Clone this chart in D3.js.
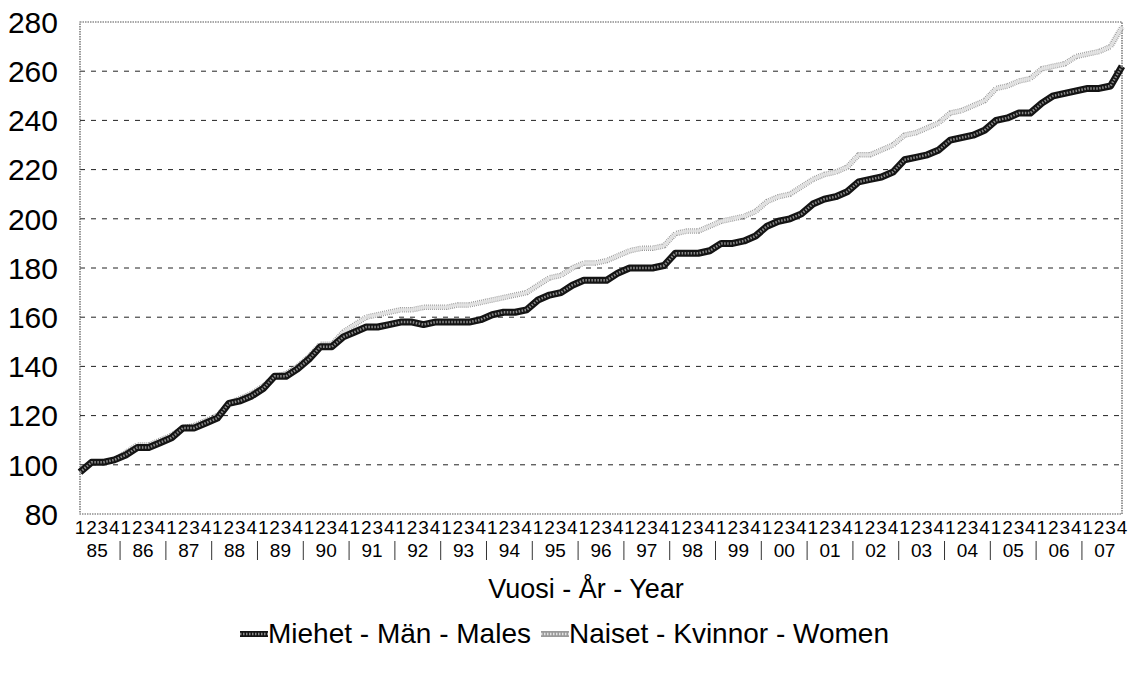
<!DOCTYPE html>
<html>
<head>
<meta charset="utf-8">
<script src="https://cdn.jsdelivr.net/npm/d3@7"></script>
<style>
  body { margin: 0; background: #fff; }
  svg { display: block; font-family: Arial, "Liberation Sans", sans-serif; }
</style>
</head>
<body>
<svg id="chart" width="1131" height="673"></svg>
<script>
const years = ["85","86","87","88","89","90","91","92","93","94","95","96","97","98","99","00","01","02","03","04","05","06","07"];
const quarters = ["1","2","3","4"];
const yTicks = [80,100,120,140,160,180,200,220,240,260,280];

// quarterly index values, 1985Q1 .. 2007Q4
const males = [
  97,101,101,102, 104,107,107,109, 111,115,115,117, 119,125,126,128,
  131,136,136,139, 143,148,148,152, 154,156,156,157, 158,158,157,158,
  158,158,158,159, 161,162,162,163, 167,169,170,173, 175,175,175,178,
  180,180,180,181, 186,186,186,187, 190,190,191,193, 197,199,200,202,
  206,208,209,211, 215,216,217,219, 224,225,226,228, 232,233,234,236,
  240,241,243,243, 247,250,251,252, 253,253,254,262
];
const females = [
  97,101,101,102, 105,108,108,110, 112,115,116,118, 120,125,127,129,
  132,136,137,140, 144,149,149,154, 157,160,161,162, 163,163,164,164,
  164,165,165,166, 167,168,169,170, 173,176,177,180, 182,182,183,185,
  187,188,188,189, 194,195,195,197, 199,200,201,203, 207,209,210,213,
  216,218,219,221, 226,226,228,230, 234,235,237,239, 243,244,246,248,
  253,254,256,257, 261,262,263,266, 267,268,270,278
];
const seriesNames = ["Miehet - Män - Males", "Naiset - Kvinnor - Women"];
const xTitle = "Vuosi - År - Year";

const svg = d3.select("#chart");
const margin = { left: 80, right: 1122, top: 22, bottom: 514 };

const labels = [];
years.forEach(y => quarters.forEach(q => labels.push(y + "-" + q)));

const x = d3.scalePoint().domain(labels).range([margin.left, margin.right]);
const y = d3.scaleLinear().domain([80, 280]).range([margin.bottom, margin.top]);

// grid lines
svg.append("g")
  .selectAll("line")
  .data(yTicks.filter(t => t > 80 && t < 280))
  .join("line")
  .attr("x1", margin.left)
  .attr("x2", margin.right)
  .attr("y1", d => y(d))
  .attr("y2", d => y(d))
  .attr("stroke", "#222")
  .attr("stroke-width", 1)
  .attr("stroke-dasharray", "5,6");

// plot border
svg.append("rect")
  .attr("x", margin.left)
  .attr("y", margin.top)
  .attr("width", margin.right - margin.left)
  .attr("height", margin.bottom - margin.top)
  .attr("fill", "none")
  .attr("stroke", "#555")
  .attr("stroke-width", 1.2)
  .attr("stroke-dasharray", "1.5,1");

// y tick labels
svg.append("g")
  .selectAll("text")
  .data(yTicks)
  .join("text")
  .attr("x", 58)
  .attr("y", d => y(d))
  .attr("dy", "0.36em")
  .attr("text-anchor", "end")
  .attr("font-size", 30)
  .attr("fill", "#000")
  .text(d => d);

// quarter labels
svg.append("g")
  .selectAll("text")
  .data(labels)
  .join("text")
  .attr("x", d => x(d))
  .attr("y", 534)
  .attr("text-anchor", "middle")
  .attr("font-size", 19)
  .attr("fill", "#000")
  .text(d => d.split("-")[1]);

// year labels and separators
const yearMid = yr => (x(yr + "-1") + x(yr + "-4")) / 2;
svg.append("g")
  .selectAll("text")
  .data(years)
  .join("text")
  .attr("x", d => yearMid(d))
  .attr("y", 557)
  .attr("text-anchor", "middle")
  .attr("font-size", 19)
  .attr("fill", "#000")
  .text(d => d);

svg.append("g")
  .selectAll("line")
  .data(years.slice(1))
  .join("line")
  .attr("x1", (d, i) => (x(years[i] + "-4") + x(d + "-1")) / 2)
  .attr("x2", (d, i) => (x(years[i] + "-4") + x(d + "-1")) / 2)
  .attr("y1", 541)
  .attr("y2", 560)
  .attr("stroke", "#333")
  .attr("stroke-width", 1);

// axis title
svg.append("text")
  .attr("x", 586)
  .attr("y", 598)
  .attr("text-anchor", "middle")
  .attr("font-size", 27)
  .attr("fill", "#000")
  .text(xTitle);

const line = d3.line()
  .x((d, i) => x(labels[i]))
  .y(d => y(d));

// females: light textured line (drawn first, males sit on top)
svg.append("path")
  .datum(females)
  .attr("d", line)
  .attr("fill", "none")
  .attr("stroke", "#9a9a9a")
  .attr("stroke-width", 5.5)
  .attr("stroke-dasharray", "1,1")
  .attr("stroke-linejoin", "round");
svg.append("path")
  .datum(females)
  .attr("d", line)
  .attr("fill", "none")
  .attr("stroke", "#e2e2e2")
  .attr("stroke-width", 3)
  .attr("stroke-opacity", 0.9);

// males: dark thick textured line
svg.append("path")
  .datum(males)
  .attr("d", line)
  .attr("fill", "none")
  .attr("stroke", "#141414")
  .attr("stroke-width", 7)
  .attr("stroke-linejoin", "round");
svg.append("path")
  .datum(males)
  .attr("d", line)
  .attr("fill", "none")
  .attr("stroke", "#8a8a8a")
  .attr("stroke-width", 2.5)
  .attr("stroke-dasharray", "1.5,1.5");

// legend
const legendY = 643;
const legendItems = [
  { name: seriesNames[0], stroke: "#141414", inner: "#8a8a8a" },
  { name: seriesNames[1], stroke: "#9a9a9a", inner: "#e2e2e2" }
];
let lx = 240;
legendItems.forEach(item => {
  const g = svg.append("g");
  g.append("line")
    .attr("x1", lx).attr("x2", lx + 28)
    .attr("y1", legendY - 9).attr("y2", legendY - 9)
    .attr("stroke", item.stroke)
    .attr("stroke-width", 6);
  g.append("line")
    .attr("x1", lx).attr("x2", lx + 28)
    .attr("y1", legendY - 9).attr("y2", legendY - 9)
    .attr("stroke", item.inner)
    .attr("stroke-width", 2.5)
    .attr("stroke-dasharray", "1.5,1.5");
  const t = g.append("text")
    .attr("x", lx + 28)
    .attr("y", legendY)
    .attr("font-size", 28)
    .attr("fill", "#000")
    .text(item.name);
  lx += 28 + t.node().getComputedTextLength() + 10;
});
</script>
</body>
</html>
